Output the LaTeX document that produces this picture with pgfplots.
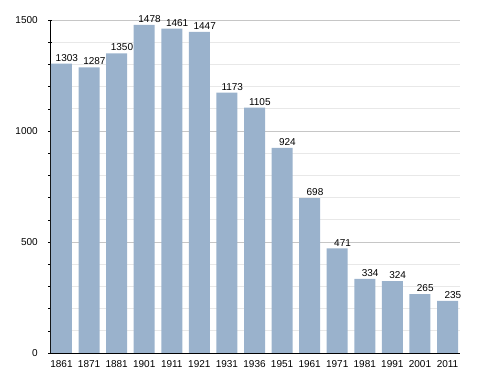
\documentclass[border=0pt]{standalone}
\usepackage{fontspec}
\setmainfont{Liberation Sans}
\usepackage{pgfplots}
\pgfplotsset{compat=1.18}
\definecolor{barc}{HTML}{9AB2CC}
\begin{document}
\begin{tikzpicture}[x=1pt,y=1pt]
\fontsize{7.5}{9}\selectfont
\begin{axis}[
  at={(0,0)}, anchor=south west,
  scale only axis,
  width=307.5pt, height=249.75pt,
  xmin=-0.417, xmax=14.453,
  ymin=0, ymax=1500,
  axis x line*=bottom, axis y line*=left,
  xtick=data,
  xticklabels={1861,1871,1881,1901,1911,1921,1931,1936,1951,1961,1971,1981,1991,2001,2011},
  x tick style={draw=none},
  ytick={0,500,1000,1500},
  minor ytick={100,200,300,400,600,700,800,900,1100,1200,1300,1400},
  ymajorgrids, yminorgrids,
  major grid style={gray!45, line width=0.5pt},
  minor grid style={gray!18, line width=0.5pt},
  y tick style={black, line width=0.4pt},
  major tick length=3pt, minor tick length=3pt,
  tick align=center,
  axis line style={black, line width=0.6pt},
  tick label style={font=\fontsize{7.5}{9}\selectfont},
  /pgf/number format/assume math mode=true,
  /pgf/number format/1000 sep={},
  yticklabel style={xshift=-5pt},
  xticklabel style={yshift=0pt},
  ybar, bar width=15.75pt,
  nodes near coords,
  nodes near coords style={font=\fontsize{7.5}{9}\selectfont, xshift=4pt, yshift=-1pt, /pgf/number format/1000 sep={}},
  clip=false,
]
\addplot[fill=barc, draw=none] coordinates {
(0,1303) (1,1287) (2,1350) (3,1478) (4,1461) (5,1447) (6,1173) (7,1105)
(8,924) (9,698) (10,471) (11,334) (12,324) (13,265) (14,235)};
\end{axis}
\useasboundingbox (-37.5pt,-15pt) rectangle (328.5pt,264.75pt);
\end{tikzpicture}
\end{document}
